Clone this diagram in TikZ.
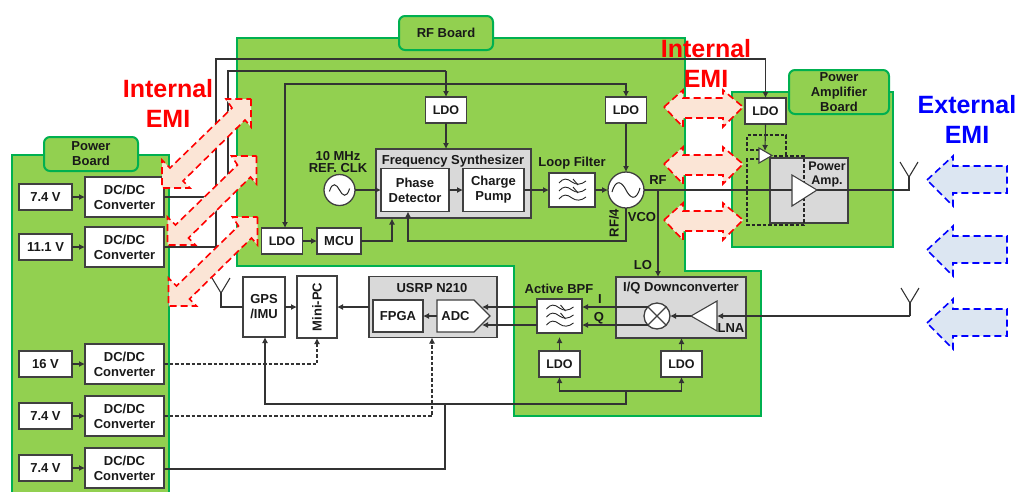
\documentclass[tikz,border=0pt]{standalone}
\usepackage{fontspec}
\setmainfont{Liberation Sans}
\usetikzlibrary{arrows.meta}
\definecolor{boardgreen}{HTML}{92D050}
\definecolor{boardline}{HTML}{00B050}
\definecolor{groupgray}{HTML}{D9D9D9}
\definecolor{edge}{HTML}{404040}
\definecolor{emired}{HTML}{FF0000}
\definecolor{emifill}{HTML}{FBE5D6}
\definecolor{extfill}{HTML}{DCE6F2}
\definecolor{extblue}{HTML}{0000FF}
\tikzset{
  lbl/.style={font=\bfseries\fontsize{13}{15}\selectfont,align=center,inner sep=0pt,text=black!90},
  board/.style={fill=boardgreen,draw=boardline,line width=2pt},
  tabbox/.style={board,rounded corners=6pt,lbl,minimum width=#1,minimum height=34pt},
  box/.style={lbl,fill=white,draw=edge,line width=1.3pt,outer sep=0pt},
  dcbox/.style={box,minimum width=79pt,minimum height=40pt},
  vbox/.style={box,minimum width=53pt,minimum height=26pt},
  ldobox/.style={box,minimum width=41pt,minimum height=26pt,font=\bfseries\fontsize{12.5}{15}\selectfont},
  groupbox/.style={fill=groupgray,draw=edge,line width=1.5pt,outer sep=0pt},
  wire/.style={draw=black!80,line width=1.1pt},
  arr/.style={wire,-{Latex[length=6pt,width=6pt]}},
  darr/.style={wire,{Latex[length=6pt,width=6pt]}-{Latex[length=6pt,width=6pt]}},
  dsh/.style={dash pattern=on 3.5pt off 2pt},
  emiarrow/.style={fill=emifill,draw=emired,line width=1.6pt,dash pattern=on 7pt off 4pt},
  extarrow/.style={fill=extfill,draw=extblue,line width=1.6pt,dash pattern=on 7pt off 4pt},
  bigtext/.style={font=\bfseries\fontsize{25}{30}\selectfont,align=center,inner sep=0pt},
}
\newcommand\filtericon[2]{%
  \begin{scope}[shift={(#1,#2)},line width=.9pt,black!85]
    \foreach \d in {-8,0,8}{
      \draw (-13,\d+1) .. controls (-9,\d-4) and (-5,\d-4) .. (0,\d) .. controls (4,\d+3) and (9,\d+3) .. (14,\d-1);}
    \draw (1,-11) -- (6,-5);
    \draw (1,-3) -- (6,3);
  \end{scope}}
\newcommand\sineicon[3]{%
  \begin{scope}[shift={(#1,#2)},scale=#3,line width=1pt,black!85]
    \draw (-14,2) .. controls (-10,-12) and (-4,-8) .. (0,0) .. controls (4,8) and (10,12) .. (14,-2);
  \end{scope}}
\newcommand\antennaarms[2]{%
  \draw[wire] (#1,#2) -- ++(-9,-15) (#1,#2) -- ++(9,-15);}
\newcommand\diagemi[2]{%
  \draw[emiarrow,shift={(#1,#2)}] (251,99) -- (251,127) -- (245,120) -- (183,181) -- (190,188) -- (162,188) -- (162,160) -- (170,168) -- (232,108) -- (226,99) -- cycle;}
\newcommand\horemi[1]{%
  \draw[emiarrow,shift={(0,#1)}] (664,0) -- (683,-17) -- (683,-9) -- (723,-9) -- (723,-17) -- (743,0) -- (723,20) -- (723,11) -- (683,11) -- (683,20) -- cycle;}
\newcommand\extemi[1]{%
  \draw[extarrow,shift={(0,#1)}] (927,0) -- (953,-24) -- (953,-14) -- (1007,-14) -- (1007,13) -- (953,13) -- (953,26) -- cycle;}
\begin{document}
\begin{tikzpicture}[x=1pt,y=-1pt]
\useasboundingbox (0,0) rectangle (1017,491);
% boards
\draw[board] (12,495) -- (12,155) -- (169,155) -- (169,495);
\draw[board] (237,38) -- (685,38) -- (685,271) -- (761,271) -- (761,416) -- (514,416) -- (514,266) -- (237,266) -- cycle;
\draw[board] (732,92) rectangle (893,247);
\node[tabbox=94pt] (tabpower) at (91,154) {Power\\Board};
\node[tabbox=94pt] (tabrf) at (446,33) {RF Board};
\node[tabbox=100pt,minimum height=44pt] (tabpa) at (839,92) {Power\\Amplifier\\Board};
% power board
\node[vbox] (v1) at (45.5,197) {7.4 V};
\node[vbox] (v2) at (45.5,247) {11.1 V};
\node[vbox] (v3) at (45.5,364) {16 V};
\node[vbox] (v4) at (45.5,416) {7.4 V};
\node[vbox] (v5) at (45.5,468) {7.4 V};
\node[dcbox] (dc1) at (124.5,197) {DC/DC\\Converter};
\node[dcbox] (dc2) at (124.5,247) {DC/DC\\Converter};
\node[dcbox] (dc3) at (124.5,364) {DC/DC\\Converter};
\node[dcbox] (dc4) at (124.5,416) {DC/DC\\Converter};
\node[dcbox] (dc5) at (124.5,468) {DC/DC\\Converter};
\foreach \i in {1,...,5}{\draw[arr] (v\i) -- (dc\i);}
% RF board, synth
\node[ldobox] (ldoa) at (282,241) {LDO};
\node[box,minimum width=44pt,minimum height=26pt] (mcu) at (339,241) {MCU};
\node[ldobox] (ldob) at (446,110) {LDO};
\node[ldobox] (ldoc) at (626,110) {LDO};
\node[groupbox,minimum width=155pt,minimum height=69pt] (fs) at (453.5,183.5) {};
\node[lbl] (fstext) at (453,161) {Frequency Synthesizer};
\node[box,minimum width=68pt,minimum height=43pt] (pd) at (415,190) {Phase\\Detector};
\node[box,minimum width=61pt,minimum height=43pt] (cp) at (493.5,190) {Charge\\Pump};
\node[box,minimum width=46pt,minimum height=34pt] (lf) at (572,190) {};
\filtericon{572}{190}
\node[lbl] (lftext) at (572,163) {Loop Filter};
\node[box,circle,minimum size=36pt] (vco) at (626,190) {};
\sineicon{626}{190}{1}
\node[box,circle,minimum size=31pt] (clk) at (339.5,190) {};
\sineicon{339.5}{190}{.72}
\node[lbl,font=\bfseries\fontsize{13}{12}\selectfont] (clktext) at (338,162) {10 MHz\\REF. CLK};
\node[lbl] (rftext) at (658,180) {RF};
\node[lbl] (vcotext) at (642,217) {VCO};
\node[lbl,rotate=90] (rf4text) at (614,223) {RF/4};
\node[lbl] (lotext) at (643,265) {LO};
% downconverter
\node[groupbox,minimum width=130pt,minimum height=61pt] (iq) at (681,307.5) {};
\node[lbl] (iqtext) at (681,288) {I/Q Downconverter};
\node[box,circle,minimum size=26pt] (mix) at (657,316) {};
\draw[line width=1.1pt,edge] (mix.north west) -- (mix.south east) (mix.north east) -- (mix.south west);
\coordinate (lnaout) at (691,316);
\coordinate (lnain) at (717,316);
\draw[fill=white,draw=edge,line width=1.1pt] (lnaout) -- (717,301) -- (717,331) -- cycle;
\node[lbl] (lnatext) at (731,328) {LNA};
\node[lbl] (bpftext) at (559,289) {Active BPF};
\node[box,minimum width=45pt,minimum height=34pt] (bpf) at (559.5,316) {};
\filtericon{559.5}{316}
\node[lbl] (itext) at (600,299) {I};
\node[lbl] (qtext) at (599,318) {Q};
\node[ldobox] (ldod) at (559.5,364) {LDO};
\node[ldobox] (ldoe) at (681.5,364) {LDO};
% lower left
\node[box,minimum width=42pt,minimum height=60pt] (gps) at (264,307) {GPS\\/IMU};
\node[box,minimum width=40pt,minimum height=62pt] (mini) at (317,307) {\rotatebox{90}{Mini-PC}};
\node[groupbox,minimum width=128pt,minimum height=61pt] (usrp) at (433,307) {};
\node[lbl] (usrptext) at (432,288) {USRP N210};
\node[box,minimum width=50pt,minimum height=32pt] (fpga) at (398,316) {FPGA};
\draw[fill=white,draw=edge,line width=1.3pt] (437,300) -- (474,300) -- (490,316) -- (474,332) -- (437,332) -- cycle;
\node[lbl,minimum width=37pt,minimum height=32pt] (adc) at (455.5,316) {ADC};
% PA board
\node[ldobox] (ldof) at (765.5,111) {LDO};
\node[groupbox,line width=1.3pt,minimum width=78pt,minimum height=65pt] (pa) at (809,190.5) {};
\node[lbl,font=\bfseries\fontsize{12.5}{14}\selectfont] (patext) at (827,174) {Power\\Amp.};
\draw[black!85,line width=1.2pt,dsh] (759,150) -- (747,150) -- (747,135) -- (786,135) -- (786,156);
\draw[black!85,line width=1.2pt,dsh] (759,159) -- (747,159) -- (747,225) -- (804,225) -- (804,156) -- (772,156);
\coordinate (drvin) at (765,151);
\draw[fill=white,draw=edge,line width=1.1pt] (759,148) -- (772,155.5) -- (759,163) -- cycle;
% antennas
\coordinate (antgps) at (221,293);
\coordinate (antgpsb) at (221,307);
\antennaarms{221}{293}
\coordinate (antpa) at (909,177);
\coordinate (antpab) at (909,190);
\antennaarms{909}{177}
\coordinate (antlna) at (910,303);
\coordinate (antlnab) at (910,316);
\antennaarms{910}{303}
% connectors
\coordinate (paIn) at (792,190);
\coordinate (paOut) at (817,190);
\coordinate (rfsplit) at (658,190);
\draw[wire] (dc1.east) -- (228,197) -- (228,71) -- (446,71);
\draw[arr] (446,71) -- (ldob.north);
\draw[wire] (dc2.east) -- (216,247) -- (216,59) -- (765.5,59);
\draw[arr] (765.5,59) -- (ldof.north);
\draw[darr] (ldoa.north -| 285,0) -- (285,84) -- (626,84) -- (ldoc.north);
\draw[arr] (ldob.south) -- (fs.north -| ldob);
\draw[arr] (ldoc.south) -- (vco.north);
\draw[arr] (ldoa.east) -- (mcu.west);
\draw[arr] (clk.east) -- (pd.west);
\draw[arr] (pd.east) -- (cp.west);
\draw[arr] (cp.east) -- (lf.west);
\draw[arr] (lf.east) -- (vco.west);
\draw[arr] (mcu.east) -- (392,241) -- (392,218.5);
\draw[arr] (vco.south) -- (626,241) -- (408,241) -- (408,211.5);
\draw[wire] (vco.east) -- (paIn);
\draw[wire] (paOut) -- (antpab) -- (antpa);
\draw[arr] (rfsplit) -- (658,277);
\draw[arr] (ldof.south) -- (drvin);
\draw[wire] (antlna) -- (antlnab);
\draw[arr] (antlnab) -- (lnain);
\draw[arr] (lnaout) -- (mix.east);
\draw[arr] (648,307) -- (582,307);
\draw[arr] (648,325) -- (582,325);
\draw[arr] (537,307) -- (482,307);
\draw[arr] (537,325) -- (482,325);
\draw[arr] (ldod.north) -- (559.5,337);
\draw[arr] (ldoe.north) -- (681.5,338);
\coordinate (bus) at (626,391);
\draw[arr] (bus) -- (559.5,391) -- (ldod.south);
\draw[arr] (bus) -- (681.5,391) -- (ldoe.south);
\draw[arr] (bus) -- (626,404) -- (265,404) -- (265,337);
\draw[wire] (445,404) -- (445,469) -- (dc5.east |- 0,469);
\draw[arr,dsh] (dc3.east) -- (317,364) -- (mini.south);
\draw[arr,dsh] (dc4.east) -- (432,416) -- (usrp.south -| 432,0);
\draw[wire] (antgps) -- (antgpsb) -- (gps.west);
\draw[arr] (gps.east) -- (mini.west);
\draw[arr] (usrp.west) -- (mini.east);
\draw[arr] (adc.west) -- (fpga.east);
% PA main triangle on top of wire
\draw[fill=white,draw=edge,line width=1.1pt] (paIn |- 0,175) -- (paOut) -- (paIn |- 0,206) -- cycle;
% EMI arrows
\diagemi{0}{0}
\diagemi{5.5}{57}
\diagemi{6.5}{118}
\horemi{107}
\horemi{164}
\horemi{220}
\extemi{180}
\extemi{250}
\extemi{323}
% EMI text
\node[bigtext,text=emired] (ilt) at (168,103) {Internal\\EMI};
\node[bigtext,text=emired] (irt) at (706,63) {Internal\\EMI};
\node[bigtext,text=extblue] (ext) at (967,119) {External\\EMI};
\end{tikzpicture}
\end{document}
